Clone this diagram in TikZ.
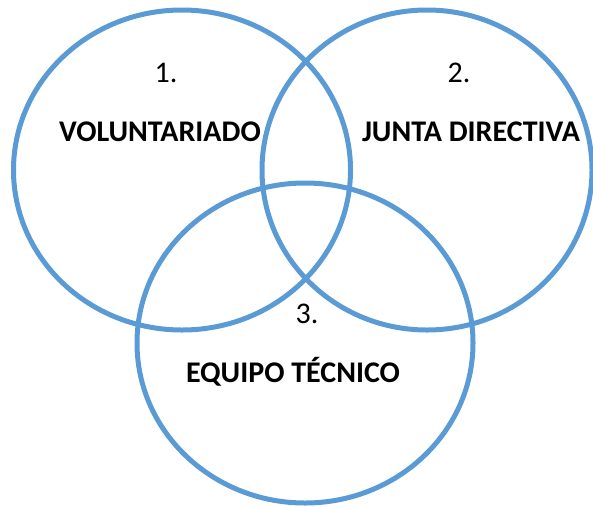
\documentclass[tikz,border=0pt]{standalone}
\usepackage{fontspec}
\setmainfont{Carlito}
\usetikzlibrary{shapes.geometric}
\definecolor{vennblue}{HTML}{5B9BD5}
\tikzset{
  venn/.style={draw=vennblue, line width=5pt, ellipse, inner sep=0pt},
  num/.style={font=\fontsize{30}{34}\selectfont, inner sep=0pt},
  lbl/.style={font=\fontsize{30}{34}\selectfont\bfseries, inner sep=0pt}
}
\begin{document}
\begin{tikzpicture}[x=1pt, y=-1pt]
    \useasboundingbox (0,0) rectangle (593,507);
    % Cerchi
    \node[venn, minimum width=337pt, minimum height=320pt] (c_vol) at (182,170) {};
    \node[venn, minimum width=330pt, minimum height=320pt] (c_junta) at (427,170) {};
    \node[venn, minimum width=336pt, minimum height=320pt] (c_equipo) at (305,343) {};

    % Numeri
    \node[num] (n_vol) at (166,73) {1.};
    \node[num] (n_junta) at (459,73) {2.};
    \node[num] (n_equipo) at (307,314) {3.};

    % Etichette
    \node[lbl] (t_vol) at (160,132) {VOLUNTARIADO};
    \node[lbl] (t_junta) at (471,132) {JUNTA DIRECTIVA};
    \node[lbl] (t_equipo) at (293,372) {EQUIPO TÉCNICO};
\end{tikzpicture}
\end{document}
